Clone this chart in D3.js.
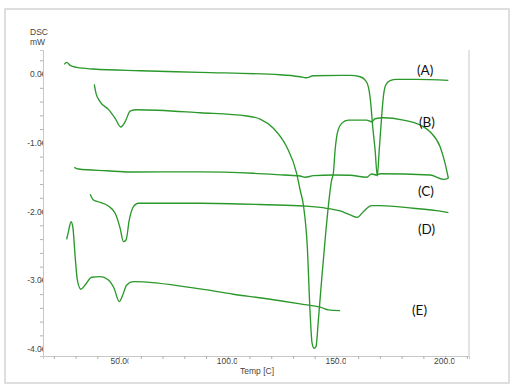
<!DOCTYPE html>
<html>
<head>
<meta charset="utf-8">
<script src="https://cdn.jsdelivr.net/npm/d3@7"></script>
<style>
	body { margin: 0; background: #fff; }
	svg { display: block; }
	.tick-label { font-family: "Liberation Sans", Arial, sans-serif; font-size: 8.5px; fill: #444; }
	.curve-label { font-family: Lato, "Open Sans", sans-serif; font-size: 13.5px; fill: #111; }
</style>
</head>
<body>
<div id="chart"></div>
<script>
// curve data: temperature [C] and DSC [mW]
var tempA = [24.8, 25.9, 27.5, 30.5, 38.2, 59.7, 87.3, 124.1, 133.3, 136.0, 139.4, 151.7, 156.3, 160.9, 163.2, 164.7, 165.8, 166.7, 167.8, 168.8, 169.7, 170.8, 171.6, 172.7, 174.7, 177.7, 186.9, 201.5];
var dscA  = [0.14, 0.17, 0.126, 0.097, 0.073, 0.048, 0.025, -0.01, -0.039, -0.054, -0.025, -0.019, -0.019, -0.039, -0.087, -0.185, -0.426, -0.766, -1.105, -1.483, -1.105, -0.621, -0.33, -0.16, -0.097, -0.077, -0.077, -0.092];

var tempB = [38.6, 39.4, 41.3, 45.1, 48.2, 50.8, 52.8, 55.1, 58.1, 87.3, 108.7, 114.9, 121.0, 127.1, 131.7, 133.3, 134.8, 136.6, 137.9, 138.8, 139.7, 140.6, 141.7, 143.2, 145.2, 147.8, 148.6, 149.4, 150.4, 152.4, 155.5, 163.9, 166.2, 167.8, 171.6, 180.8, 188.5, 193.1, 197.7, 200.0, 201.5];
var dscB  = [-0.15, -0.281, -0.403, -0.513, -0.644, -0.77, -0.693, -0.538, -0.519, -0.563, -0.61, -0.654, -0.789, -1.057, -1.443, -1.686, -1.904, -2.51, -3.478, -3.914, -3.987, -3.964, -3.576, -2.994, -2.267, -1.541, -1.439, -1.105, -0.862, -0.717, -0.669, -0.669, -0.693, -0.65, -0.635, -0.669, -0.741, -0.839, -1.057, -1.298, -1.516];

var tempC = [29.4, 31.3, 44.3, 55.1, 87.3, 111.8, 125.6, 133.3, 135.6, 139.4, 148.6, 156.3, 163.9, 166.2, 168.5, 170.1, 193.1, 199.2, 201.5];
var dscC  = [-1.356, -1.381, -1.406, -1.424, -1.422, -1.443, -1.468, -1.483, -1.501, -1.478, -1.468, -1.472, -1.501, -1.453, -1.468, -1.449, -1.468, -1.531, -1.516];

var tempD = [36.7, 38.2, 41.3, 45.1, 48.2, 50.5, 52.0, 53.2, 54.7, 56.6, 58.9, 87.3, 117.9, 134.8, 145.5, 151.7, 156.3, 159.6, 162.4, 166.2, 170.1, 185.4, 196.1, 201.5];
var dscD  = [-1.749, -1.831, -1.865, -1.919, -2.025, -2.243, -2.437, -2.413, -2.122, -1.929, -1.879, -1.879, -1.9, -1.919, -1.952, -1.991, -2.049, -2.083, -2.001, -1.914, -1.914, -1.952, -1.987, -2.016];

var tempE = [25.9, 26.7, 27.9, 28.7, 29.8, 30.8, 32.4, 34.4, 37.4, 41.3, 45.1, 47.7, 50.1, 51.7, 53.5, 56.6, 87.3, 102.6, 116.4, 133.3, 143.2, 146.3, 151.7];
var dscE  = [-2.403, -2.292, -2.147, -2.22, -2.656, -2.994, -3.129, -3.067, -2.955, -2.946, -2.994, -3.115, -3.31, -3.212, -3.067, -3.019, -3.125, -3.202, -3.26, -3.343, -3.397, -3.43, -3.44];

var curveNames = ['(A)', '(B)', '(C)', '(D)', '(E)'];
var yTickValues = [0, -1, -2, -3, -4];
var xTickValues = [50, 100, 150, 200];
var yTickLabels = ['0.00', '-1.00', '-2.00', '-3.00', '-4.00'];
var xTickLabels = ['50.00', '100.00', '150.00', '200.00'];
var axisTitleY = ['DSC', 'mW'];
var axisTitleX = 'Temp  [C]';

var width = 516, height = 388;
var svg = d3.select('#chart').append('svg').attr('width', width).attr('height', height);

var x = d3.scaleLinear().domain([15, 211]).range([43, 469]);
var y = d3.scaleLinear().domain([0.35, -4.1]).range([50, 356]);

// outer frame
svg.append('rect').attr('x', 5).attr('y', 9).attr('width', 504).attr('height', 374)
	.attr('fill', 'none').attr('stroke', '#d4d4d4').attr('stroke-width', 1.5);

function drawAxes()
{
	var minorY = d3.range(0.2, -4.01, -0.2);
	var minorX = d3.range(20, 211, 10);

	var left = svg.append('g').attr('transform', 'translate(43,0)')
		.call(d3.axisLeft(y).tickValues(minorY).tickSize(3).tickFormat(''));
	var bottom = svg.append('g').attr('transform', 'translate(0,356)')
		.call(d3.axisBottom(x).tickValues(minorX).tickSize(3).tickFormat(''));
	[left, bottom].forEach(function(g) {
		g.select('.domain').attr('stroke', '#c8c8c8');
		g.selectAll('.tick line').attr('stroke', '#b0b0b0');
	});

	svg.append('line').attr('x1', 469).attr('x2', 469).attr('y1', 50).attr('y2', 356)
		.attr('stroke', '#c8c8c8');

	// labels are cut off at the axis, like in the original software
	var defs = svg.append('defs');
	defs.append('clipPath').attr('id', 'clipY').append('rect')
		.attr('x', 0).attr('y', 40).attr('width', 43).attr('height', 330);

	svg.append('g').attr('clip-path', 'url(#clipY)').selectAll('text').data(yTickValues).enter().append('text')
		.attr('class', 'tick-label')
		.attr('x', 46.5)
		.attr('y', function(d) { return y(d) + 3; })
		.attr('text-anchor', 'end')
		.text(function(d, i) { return yTickLabels[i]; });

	xTickValues.forEach(function(v, i) {
		var cx = x(v);
		defs.append('clipPath').attr('id', 'clipX' + i).append('rect')
			.attr('x', cx - 20).attr('y', 356).attr('width', 29.5).attr('height', 12);
		svg.append('text').attr('class', 'tick-label')
			.attr('clip-path', 'url(#clipX' + i + ')')
			.attr('x', cx + 2).attr('y', 364)
			.attr('text-anchor', 'middle')
			.text(xTickLabels[i]);
	});

	svg.append('text').attr('class', 'tick-label').attr('x', 39).attr('y', 35)
		.attr('text-anchor', 'middle').text(axisTitleY[0]);
	svg.append('text').attr('class', 'tick-label').attr('x', 37.5).attr('y', 45)
		.attr('text-anchor', 'middle').text(axisTitleY[1]);
	svg.append('text').attr('class', 'tick-label').attr('x', 240).attr('y', 374)
		.text(axisTitleX);
}

function drawCurves()
{
	var series = [[tempA, dscA], [tempB, dscB], [tempC, dscC], [tempD, dscD], [tempE, dscE]];
	var line = d3.line()
		.x(function(d) { return x(d[0]); })
		.y(function(d) { return y(d[1]); })
		.curve(d3.curveMonotoneX);

	series.forEach(function(s) {
		var pts = d3.zip(s[0], s[1]);
		svg.append('path').datum(pts)
			.attr('d', line)
			.attr('fill', 'none')
			.attr('stroke', '#2a982a')
			.attr('stroke-width', 1.35);
	});

	var labelX = [417, 419, 418, 418, 412];
	var labelY = [75, 127, 196, 234, 315];
	svg.selectAll('.curve-label').data(curveNames).enter().append('text')
		.attr('class', 'curve-label')
		.attr('x', function(d, i) { return labelX[i]; })
		.attr('y', function(d, i) { return labelY[i]; })
		.text(function(d) { return d; });
}

drawAxes();
drawCurves();
</script>
</body>
</html>
